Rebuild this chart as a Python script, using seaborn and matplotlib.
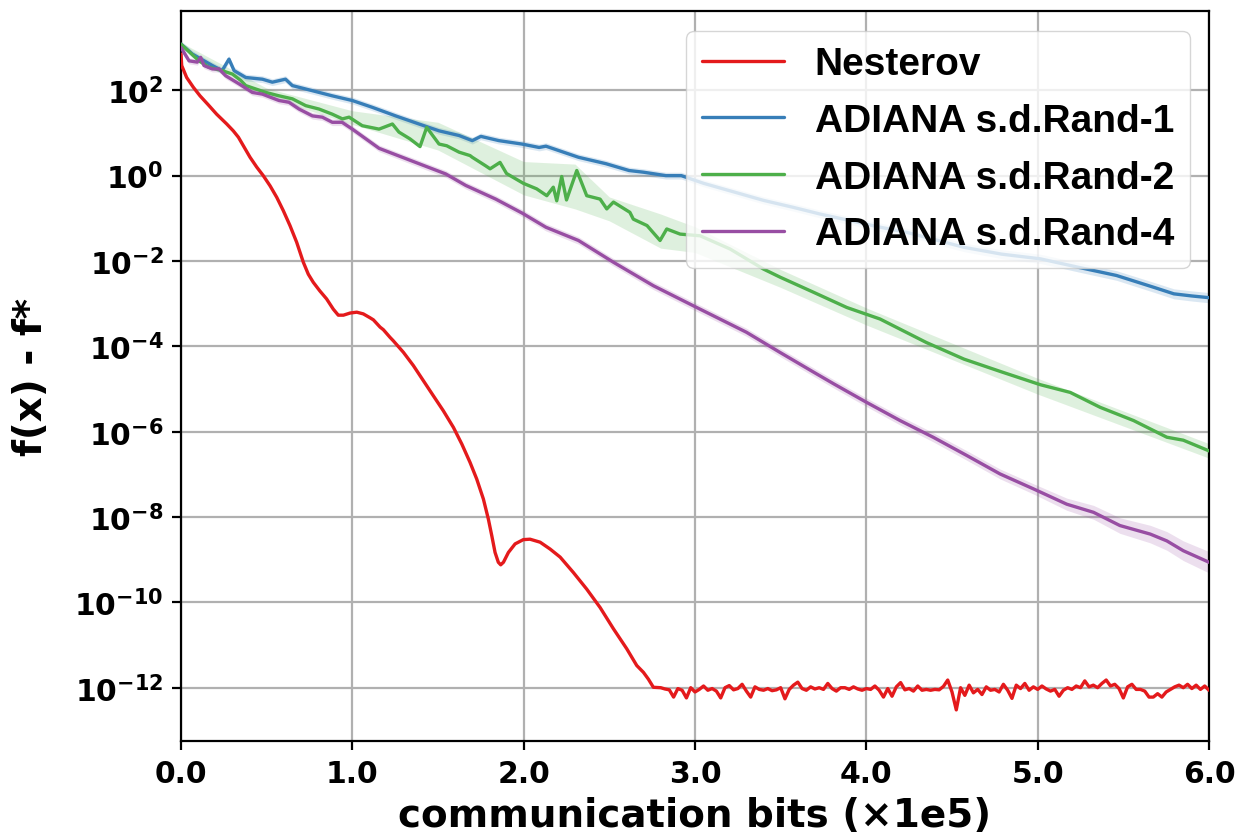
import numpy as np
import pandas as pd
import matplotlib
matplotlib.use("Agg")
import matplotlib.pyplot as plt
import seaborn as sns
from matplotlib.ticker import NullLocator
from matplotlib.font_manager import FontProperties

# ---------------- data (x in 1e5 bits, y as log10 of f(x)-f*) ----------------
methods = ["Nesterov", "ADIANA s.d.Rand-1", "ADIANA s.d.Rand-2", "ADIANA s.d.Rand-4"]
colors = ["#e41a1c", "#377eb8", "#4daf4a", "#984ea3"]

nest_x_smooth = [0.0, 0.004, 0.033, 0.072, 0.111, 0.159, 0.208, 0.267, 0.305, 0.335, 0.364,
                 0.403, 0.442, 0.48, 0.52, 0.559, 0.597, 0.636, 0.675, 0.714, 0.743, 0.772,
                 0.81, 0.85, 0.889, 0.918, 0.948, 0.987, 1.026, 1.064, 1.103, 1.123, 1.162,
                 1.181, 1.22, 1.239, 1.298, 1.356, 1.415, 1.473, 1.531, 1.59, 1.639, 1.687,
                 1.726, 1.765, 1.794, 1.814, 1.833, 1.852, 1.866, 1.882, 1.911, 1.95, 1.998,
                 2.037, 2.096, 2.154, 2.213, 2.29, 2.368, 2.446, 2.524, 2.602, 2.66, 2.699,
                 2.728, 2.757]
nest_log_smooth = [2.85, 2.58, 2.30, 2.07, 1.87, 1.66, 1.44, 1.21, 1.05, 0.90, 0.70,
                   0.43, 0.20, 0.0, -0.24, -0.51, -0.82, -1.17, -1.56, -2.03, -2.31, -2.50,
                   -2.70, -2.89, -3.13, -3.27, -3.27, -3.22, -3.20, -3.24, -3.33, -3.38, -3.55,
                   -3.61, -3.79, -3.87, -4.14, -4.45, -4.81, -5.16, -5.51, -5.90, -6.29, -6.72,
                   -7.11, -7.58, -8.05, -8.44, -8.83, -9.06, -9.12, -9.06, -8.83, -8.63, -8.53,
                   -8.52, -8.59, -8.75, -8.94, -9.30, -9.69, -10.12, -10.62, -11.09, -11.48, -11.64,
                   -11.80, -11.99]
nest_x_flat = list(np.round(np.arange(2.80, 6.0001, 0.025), 3))
nest_log_flat = [
    -12.00, -12.03, -12.05, -12.22, -12.02, -12.06, -12.24, -12.00, -12.10, -12.04,
    -11.96, -12.06, -12.02, -12.08, -12.24, -12.00, -11.95, -12.05, -12.02, -11.92,
    -12.08, -12.22, -11.98, -12.04, -12.06, -12.02, -12.07, -12.05, -12.00, -12.26,
    -12.04, -11.94, -11.87, -12.02, -12.06, -11.98, -12.03, -12.00, -12.04, -11.90,
    -12.02, -12.08, -12.00, -12.00, -12.04, -11.98, -12.03, -12.06, -12.02, -12.04,
    -11.96, -12.06, -12.22, -12.02, -12.20, -11.98, -11.88, -12.05, -12.02, -12.08,
    -11.96, -12.06, -12.04, -12.06, -12.04, -12.05, -11.97, -11.82, -12.10, -12.52,
    -12.00, -12.18, -11.94, -12.12, -12.04, -12.16, -11.98, -12.06, -12.04, -12.10,
    -11.92, -12.06, -12.25, -11.94, -12.02, -11.90, -12.06, -11.98, -12.04, -11.96,
    -12.03, -12.08, -12.04, -12.20, -12.06, -12.00, -12.04, -11.96, -12.00, -11.84,
    -11.98, -11.94, -12.00, -11.90, -11.82, -11.96, -11.92, -12.02, -12.24, -11.98,
    -11.92, -12.04, -12.04, -12.08, -12.22, -12.22, -12.14, -12.22, -12.10, -12.04,
    -11.98, -11.94, -12.00, -11.92, -12.02, -11.94, -12.04, -11.96, -12.06]

r1_x = [0.0, 0.066, 0.183, 0.24, 0.28, 0.31, 0.378, 0.475, 0.533, 0.61, 0.65, 0.767, 0.883,
        1.0, 1.117, 1.253, 1.389, 1.506, 1.623, 1.70, 1.75, 1.856, 1.99, 2.09, 2.13, 2.32,
        2.48, 2.615, 2.70, 2.83, 2.92, 3.05, 3.234, 3.40, 3.57, 3.73, 3.90, 4.07, 4.236,
        4.40, 4.57, 4.79, 5.016, 5.24, 5.46, 5.68, 5.795, 5.90, 6.0]
r1_log = [3.08, 2.85, 2.58, 2.46, 2.73, 2.46, 2.30, 2.26, 2.19, 2.26, 2.11, 1.99, 1.87,
          1.76, 1.60, 1.40, 1.21, 1.05, 0.94, 0.82, 0.92, 0.82, 0.74, 0.66, 0.69, 0.43,
          0.28, 0.12, 0.08, 0.0, 0.0, -0.18, -0.39, -0.58, -0.74, -0.90, -1.05, -1.20, -1.33,
          -1.50, -1.68, -1.84, -1.95, -2.15, -2.34, -2.62, -2.77, -2.82, -2.86]

r2_x = [0.0, 0.105, 0.163, 0.24, 0.30, 0.349, 0.378, 0.495, 0.572, 0.65, 0.728, 0.806, 0.883,
        0.942, 0.981, 1.058, 1.156, 1.234, 1.272, 1.337, 1.395, 1.434, 1.506, 1.551, 1.623,
        1.687, 1.70, 1.778, 1.804, 1.862, 1.90, 1.998, 2.076, 2.135, 2.173, 2.193, 2.222,
        2.25, 2.31, 2.368, 2.446, 2.485, 2.524, 2.62, 2.64, 2.72, 2.796, 2.835, 2.913, 3.03,
        3.205, 3.40, 3.497, 3.69, 3.886, 4.08, 4.35, 4.57, 4.79, 5.016, 5.19, 5.365, 5.56,
        5.754, 5.85, 6.0]
r2_log = [3.08, 2.69, 2.54, 2.46, 2.38, 2.23, 2.11, 1.95, 1.87, 1.80, 1.64, 1.56, 1.44,
          1.33, 1.37, 1.17, 1.09, 1.21, 1.02, 0.86, 0.68, 1.13, 0.74, 0.70, 0.55,
          0.47, 0.43, 0.23, 0.16, 0.31, 0.05, -0.18, -0.31, -0.47, -0.27, -0.59, -0.02,
          -0.57, 0.12, -0.47, -0.55, -0.78, -0.62, -0.86, -1.02, -1.17, -1.52, -1.25, -1.37, -1.41,
          -1.72, -2.19, -2.38, -2.73, -3.09, -3.36, -3.91, -4.30, -4.60, -4.90, -5.08, -5.43, -5.74,
          -6.13, -6.20, -6.45]

r4_x = [0.0, 0.047, 0.095, 0.115, 0.134, 0.183, 0.222, 0.261, 0.339, 0.416, 0.475, 0.572,
        0.63, 0.689, 0.767, 0.825, 0.883, 0.94, 1.0, 1.156, 1.35, 1.545, 1.662, 1.837,
        1.992, 2.13, 2.32, 2.524, 2.757, 3.01, 3.30, 3.495, 3.69, 3.81, 4.0, 4.197, 4.39,
        4.587, 4.78, 4.975, 5.17, 5.326, 5.48, 5.657, 5.754, 5.85, 6.0]
r4_log = [3.0, 2.69, 2.66, 2.77, 2.58, 2.50, 2.50, 2.34, 2.15, 1.95, 1.91, 1.76,
          1.72, 1.56, 1.40, 1.37, 1.25, 1.25, 1.09, 0.64, 0.34, 0.04, -0.23, -0.55,
          -0.88, -1.21, -1.52, -2.03, -2.58, -3.09, -3.67, -4.14, -4.60, -4.88, -5.31, -5.74, -6.13,
          -6.56, -6.99, -7.34, -7.70, -7.89, -8.20, -8.40, -8.56, -8.79, -9.06]

# shaded spread (log10 decades)
r1_band_x = [0.0, 3.0, 6.0]
r1_band_half = [0.08, 0.08, 0.12]
r2_band_x = [0.0, 0.5, 1.0, 1.5, 2.0, 2.3, 2.5, 2.8, 3.0, 3.5, 4.0, 5.0, 6.0]
r2_band_lo = [3.02, 1.85, 1.20, 0.60, -0.45, -0.78, -1.06, -1.70, -1.80, -2.62, -3.50, -5.12, -6.62]
r2_band_hi = [3.12, 2.05, 1.52, 1.25, 0.33, 0.27, -0.50, -0.90, -1.20, -2.20, -3.10, -4.75, -6.28]
r4_band_x = [0.0, 4.0, 5.0, 6.0]
r4_band_half = [0.07, 0.10, 0.12, 0.25]

xtick_vals = [0.0, 1.0, 2.0, 3.0, 4.0, 5.0, 6.0]
ytick_exps = [2, 0, -2, -4, -6, -8, -10, -12]

# ---------------- build long-form table ----------------
frames = []
for name, xs, ls in [(methods[0], nest_x_smooth + nest_x_flat, nest_log_smooth + nest_log_flat),
                     (methods[1], r1_x, r1_log),
                     (methods[2], r2_x, r2_log),
                     (methods[3], r4_x, r4_log)]:
    frames.append(pd.DataFrame({"bits": xs, "gap": 10.0 ** np.asarray(ls), "method": name}))
df = pd.concat(frames, ignore_index=True)

# ---------------- style ----------------
sns.set_theme(style="whitegrid", rc={
    "axes.edgecolor": "black",
    "axes.linewidth": 1.6,
    "grid.color": "#b0b0b0",
    "grid.linewidth": 1.6,
    "xtick.bottom": True,
    "ytick.left": True,
    "xtick.color": "black",
    "ytick.color": "black",
    "text.color": "black",
    "axes.labelcolor": "black",
})
plt.rcParams["font.family"] = ["DejaVu Sans"]

fig = plt.figure(figsize=(12.4, 8.37), dpi=100)
ax = fig.add_axes([181 / 1240, (837 - 742.3) / 837, (1209 - 181) / 1240, (742.3 - 12.3) / 837])
ax.set_yscale("log")

# bands
bx = np.asarray(r1_x)
hw = np.interp(bx, r1_band_x, r1_band_half)
ax.fill_between(bx, 10.0 ** (np.asarray(r1_log) - hw), 10.0 ** (np.asarray(r1_log) + hw),
                color=colors[1], alpha=0.18, lw=0, zorder=1.5)
gx = np.linspace(0, 6, 61)
ax.fill_between(gx, 10.0 ** np.interp(gx, r2_band_x, r2_band_lo),
                10.0 ** np.interp(gx, r2_band_x, r2_band_hi),
                color=colors[2], alpha=0.18, lw=0, zorder=1.5)
px = np.asarray(r4_x)
hw4 = np.interp(px, r4_band_x, r4_band_half)
ax.fill_between(px, 10.0 ** (np.asarray(r4_log) - hw4), 10.0 ** (np.asarray(r4_log) + hw4),
                color=colors[3], alpha=0.18, lw=0, zorder=1.5)

sns.lineplot(data=df, x="bits", y="gap", hue="method", hue_order=methods,
             palette=colors, estimator=None, sort=True, linewidth=2.4, ax=ax, zorder=3)

ax.set_xlim(0, 6)
ax.set_ylim(10 ** -13.256, 10 ** 3.851)
ax.set_xticks(xtick_vals, labels=[f"{v:.1f}" for v in xtick_vals], fontweight="bold")
ax.set_yticks([10.0 ** e for e in ytick_exps],
              labels=[r"$\mathbf{10^{%d}}$" % e for e in ytick_exps])
ax.yaxis.set_minor_locator(NullLocator())
ax.tick_params(axis="both", which="major", labelsize=21.5, length=6.5, width=1.6, pad=6)
ax.grid(True, which="major", color="#b0b0b0", linewidth=1.6)
ax.set_axisbelow(True)

ax.set_xlabel("communication bits (×1e5)", fontsize=28, fontweight="bold")
ax.set_ylabel("f(x) - f*", fontsize=28, fontweight="bold")
ax.xaxis.set_label_coords(0.5, -0.075)
ax.yaxis.set_label_coords(-0.127, 0.5)

handles, labels = ax.get_legend_handles_labels()
leg = ax.legend(handles, labels, loc="upper right",
                prop=FontProperties(family="Liberation Sans", weight="bold", size=28),
                labelspacing=0.53, handlelength=2.1, handletextpad=0.8, framealpha=0.8)
for t in leg.get_texts():
    t.set_color("black")
for h in leg.get_lines():
    h.set_linewidth(2.4)

fig.savefig("out.png", dpi=100)
